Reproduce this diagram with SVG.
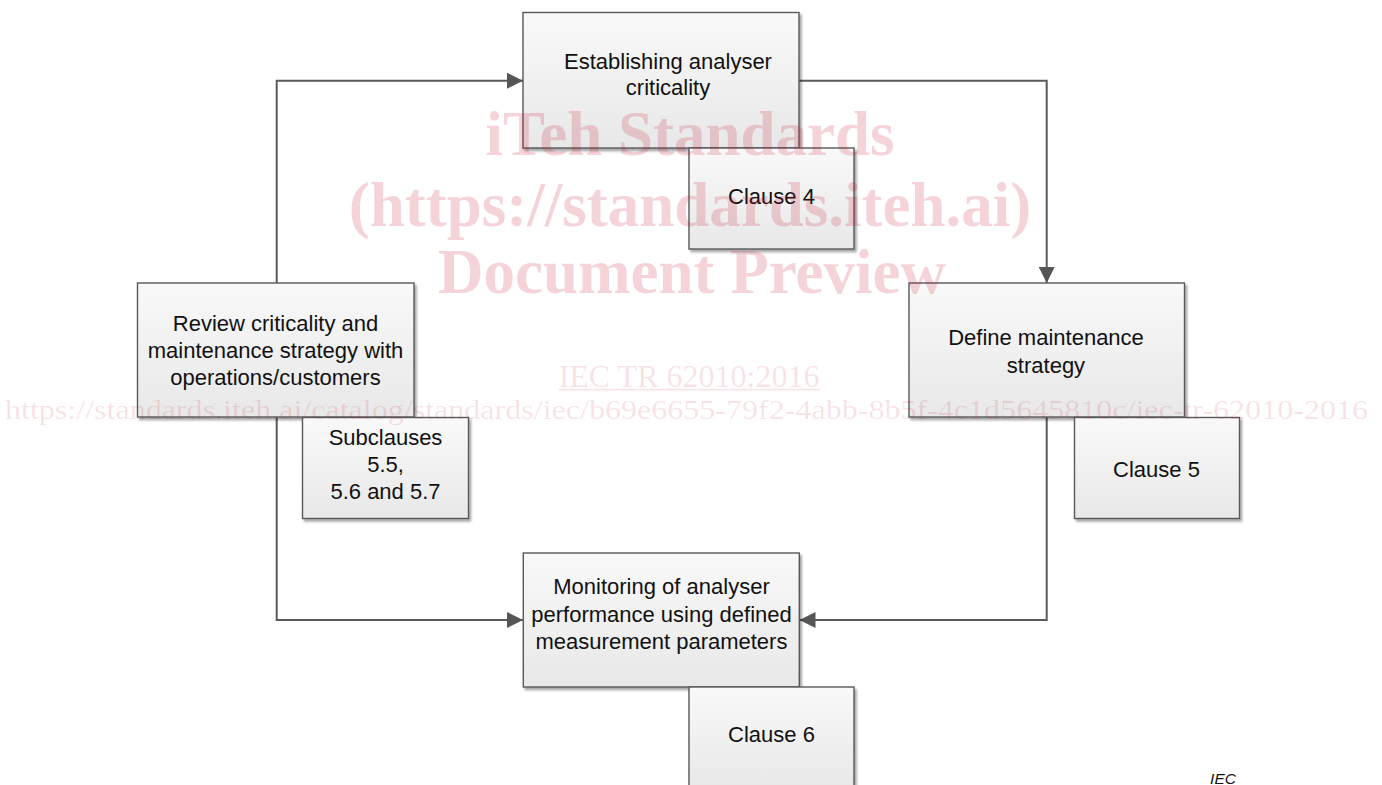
<svg xmlns="http://www.w3.org/2000/svg" width="1382" height="785" viewBox="0 0 1382 785">
  <defs>
    <linearGradient id="boxGrad" x1="0" y1="0" x2="0" y2="1">
      <stop offset="0" stop-color="#f9f9f9"/>
      <stop offset="1" stop-color="#e8e8e8"/>
    </linearGradient>
    <filter id="shadow" x="-10%" y="-10%" width="120%" height="130%">
      <feDropShadow dx="2" dy="2.5" stdDeviation="1.2" flood-color="#000000" flood-opacity="0.35"/>
    </filter>
    <marker id="arrow" viewBox="0 0 16 16" refX="16" refY="8" markerWidth="16" markerHeight="16" markerUnits="userSpaceOnUse" orient="auto">
      <path d="M0,0 L16,8 L0,16 z" fill="#555555"/>
    </marker>
    <style>
      .box { fill: url(#boxGrad); stroke: #595959; stroke-width: 1.4; filter: url(#shadow); }
      .lbl { font-family: "Liberation Sans", Arial, sans-serif; font-size: 22px; fill: #111111; text-anchor: middle; }
      .conn { fill: none; stroke: #5a5a5a; stroke-width: 2; marker-end: url(#arrow); }
      .wm { font-family: "Liberation Serif", "Times New Roman", serif; fill: #c8102e; text-anchor: middle; }
      .wmBig { font-size: 63px; font-weight: bold; fill-opacity: 0.18; }
      .wmSmall { fill-opacity: 0.12; }
    </style>
  </defs>

  <rect x="0" y="0" width="1382" height="785" fill="#ffffff"/>

  <g id="connectors">
    <path class="conn" d="M276.7,283 V80.7 H523"/>
    <path class="conn" d="M799,80.7 H1046.7 V283"/>
    <path class="conn" d="M1046.7,417 V620 H799.5"/>
    <path class="conn" d="M276.7,417 V620 H523"/>
  </g>

  <g id="node-establishing">
    <rect class="box" x="523" y="12.5" width="276" height="135.5"/>
    <text class="lbl" x="668" y="69">Establishing analyser</text>
    <text class="lbl" x="668" y="95">criticality</text>
  </g>

  <g id="node-clause4">
    <rect class="box" x="689" y="148" width="165" height="101"/>
    <text class="lbl" x="771.5" y="204">Clause 4</text>
  </g>

  <g id="node-define">
    <rect class="box" x="909" y="283" width="275.5" height="134"/>
    <text class="lbl" x="1046" y="345">Define maintenance</text>
    <text class="lbl" x="1046" y="372.5">strategy</text>
  </g>

  <g id="node-clause5">
    <rect class="box" x="1074.5" y="417.5" width="165" height="101"/>
    <text class="lbl" x="1156.5" y="476.5">Clause 5</text>
  </g>

  <g id="node-review">
    <rect class="box" x="137.5" y="283" width="276.5" height="134"/>
    <text class="lbl" x="275.5" y="331">Review criticality and</text>
    <text class="lbl" x="275.5" y="358">maintenance strategy with</text>
    <text class="lbl" x="275.5" y="385">operations/customers</text>
  </g>

  <g id="node-subclauses">
    <rect class="box" x="302.5" y="417.5" width="166" height="101"/>
    <text class="lbl" x="385.5" y="445">Subclauses</text>
    <text class="lbl" x="385.5" y="472">5.5,</text>
    <text class="lbl" x="385.5" y="499">5.6 and 5.7</text>
  </g>

  <g id="node-monitoring">
    <rect class="box" x="523.3" y="553" width="276" height="134"/>
    <text class="lbl" x="661.5" y="593.5">Monitoring of analyser</text>
    <text class="lbl" x="661.5" y="621.5">performance using defined</text>
    <text class="lbl" x="661.5" y="649">measurement parameters</text>
  </g>

  <g id="node-clause6">
    <rect class="box" x="689" y="687" width="165" height="101"/>
    <text class="lbl" x="771.5" y="741.5">Clause 6</text>
  </g>

  <text x="1223" y="784" font-family="Liberation Sans, Arial, sans-serif" font-size="15.5" font-style="italic" fill="#111111" text-anchor="middle">IEC</text>

  <g id="watermark">
    <text class="wm wmBig" x="690" y="155">iTeh Standards</text>
    <text class="wm wmBig" x="690" y="226">(https://standards.iteh.ai)</text>
    <text class="wm wmBig" x="692" y="293">Document Preview</text>
    <text class="wm wmSmall" x="689" y="386.5" font-size="32">IEC TR 62010:2016</text>
    <rect x="559" y="388.8" width="261" height="1.6" fill="#c8102e" fill-opacity="0.12"/>
    <text class="wm wmSmall" x="686.5" y="419" font-size="27" textLength="1363" lengthAdjust="spacingAndGlyphs">https://standards.iteh.ai/catalog/standards/iec/b69e6655-79f2-4abb-8b5f-4c1d5645810c/iec-tr-62010-2016</text>
  </g>
</svg>
